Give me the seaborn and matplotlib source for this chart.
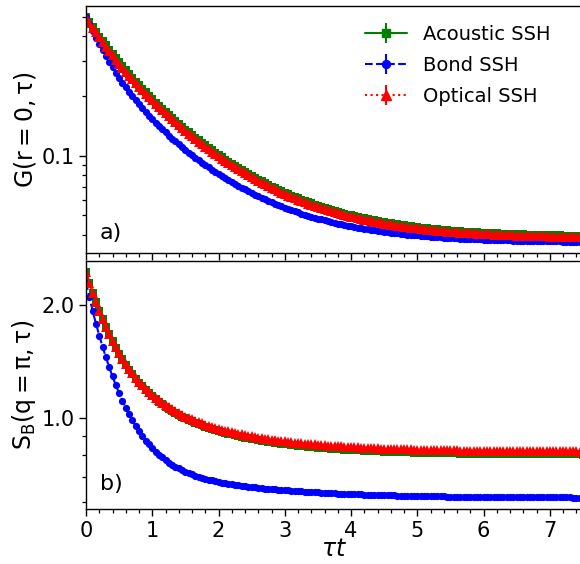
import numpy as np
import pandas as pd
import matplotlib
matplotlib.use("Agg")
import matplotlib.pyplot as plt
from matplotlib import ticker
import seaborn as sns

# ---------------- data ----------------
tau = [0.00, 0.05, 0.10, 0.15, 0.20, 0.25, 0.30, 0.35, 0.40, 0.45,
       0.50, 0.55, 0.60, 0.65, 0.70, 0.75, 0.80, 0.85, 0.90, 0.95,
       1.00, 1.05, 1.10, 1.15, 1.20, 1.25, 1.30, 1.35, 1.40, 1.45,
       1.50, 1.55, 1.60, 1.65, 1.70, 1.75, 1.80, 1.85, 1.90, 1.95,
       2.00, 2.05, 2.10, 2.15, 2.20, 2.25, 2.30, 2.35, 2.40, 2.45,
       2.50, 2.55, 2.60, 2.65, 2.70, 2.75, 2.80, 2.85, 2.90, 2.95,
       3.00, 3.05, 3.10, 3.15, 3.20, 3.25, 3.30, 3.35, 3.40, 3.45,
       3.50, 3.55, 3.60, 3.65, 3.70, 3.75, 3.80, 3.85, 3.90, 3.95,
       4.00, 4.05, 4.10, 4.15, 4.20, 4.25, 4.30, 4.35, 4.40, 4.45,
       4.50, 4.55, 4.60, 4.65, 4.70, 4.75, 4.80, 4.85, 4.90, 4.95,
       5.00, 5.05, 5.10, 5.15, 5.20, 5.25, 5.30, 5.35, 5.40, 5.45,
       5.50, 5.55, 5.60, 5.65, 5.70, 5.75, 5.80, 5.85, 5.90, 5.95,
       6.00, 6.05, 6.10, 6.15, 6.20, 6.25, 6.30, 6.35, 6.40, 6.45,
       6.50, 6.55, 6.60, 6.65, 6.70, 6.75, 6.80, 6.85, 6.90, 6.95,
       7.00, 7.05, 7.10, 7.15, 7.20, 7.25, 7.30, 7.35, 7.40, 7.45, 7.50]

# panel a) G(r=0, tau)
G_acoustic = [0.49950, 0.47112, 0.44520, 0.42134, 0.39934, 0.37900, 0.36017, 0.34306, 0.32619, 0.31053,
              0.29594, 0.28236, 0.26968, 0.25783, 0.24673, 0.23633, 0.22656, 0.21739, 0.20876, 0.20061,
              0.19295, 0.18571, 0.17886, 0.17240, 0.16628, 0.16047, 0.15497, 0.14974, 0.14479, 0.14008,
              0.13559, 0.13134, 0.12728, 0.12341, 0.11974, 0.11623, 0.11289, 0.10968, 0.10664, 0.10373,
              0.10096, 0.09831, 0.09578, 0.09336, 0.09105, 0.08882, 0.08672, 0.08469, 0.08275, 0.08091,
              0.07913, 0.07743, 0.07582, 0.07427, 0.07278, 0.07136, 0.06999, 0.06870, 0.06744, 0.06625,
              0.06510, 0.06400, 0.06295, 0.06194, 0.06097, 0.06002, 0.05914, 0.05830, 0.05749, 0.05672,
              0.05598, 0.05526, 0.05458, 0.05393, 0.05330, 0.05270, 0.05212, 0.05157, 0.05104, 0.05054,
              0.05005, 0.04958, 0.04915, 0.04871, 0.04830, 0.04791, 0.04753, 0.04718, 0.04683, 0.04650,
              0.04618, 0.04588, 0.04558, 0.04531, 0.04504, 0.04478, 0.04454, 0.04430, 0.04407, 0.04386,
              0.04366, 0.04345, 0.04326, 0.04308, 0.04290, 0.04274, 0.04258, 0.04243, 0.04227, 0.04213,
              0.04200, 0.04187, 0.04175, 0.04163, 0.04151, 0.04140, 0.04129, 0.04120, 0.04110, 0.04101,
              0.04091, 0.04083, 0.04075, 0.04067, 0.04060, 0.04053, 0.04046, 0.04039, 0.04033, 0.04027,
              0.04021, 0.04015, 0.04010, 0.04005, 0.04000, 0.03995, 0.03991, 0.03987, 0.03983, 0.03979,
              0.03975, 0.03971, 0.03968, 0.03965, 0.03962, 0.03959, 0.03955, 0.03952, 0.03949, 0.03947, 0.03944]

G_bond = [0.50000, 0.46008, 0.42465, 0.39315, 0.36507, 0.33996, 0.31746, 0.29725, 0.27904, 0.26258,
          0.24767, 0.23413, 0.22178, 0.21051, 0.20018, 0.19068, 0.18194, 0.17387, 0.16640, 0.15946,
          0.15301, 0.14700, 0.14139, 0.13614, 0.13122, 0.12659, 0.12225, 0.11816, 0.11429, 0.11064,
          0.10720, 0.10392, 0.10084, 0.09790, 0.09512, 0.09247, 0.08996, 0.08757, 0.08528, 0.08312,
          0.08105, 0.07909, 0.07721, 0.07543, 0.07372, 0.07209, 0.07053, 0.06905, 0.06764, 0.06627,
          0.06498, 0.06374, 0.06256, 0.06143, 0.06035, 0.05931, 0.05833, 0.05739, 0.05648, 0.05562,
          0.05477, 0.05398, 0.05323, 0.05251, 0.05182, 0.05116, 0.05053, 0.04993, 0.04935, 0.04879,
          0.04827, 0.04776, 0.04727, 0.04681, 0.04637, 0.04594, 0.04554, 0.04515, 0.04477, 0.04442,
          0.04408, 0.04375, 0.04344, 0.04314, 0.04285, 0.04258, 0.04232, 0.04207, 0.04183, 0.04160,
          0.04138, 0.04117, 0.04097, 0.04078, 0.04059, 0.04042, 0.04025, 0.04009, 0.03993, 0.03978,
          0.03964, 0.03951, 0.03938, 0.03925, 0.03914, 0.03902, 0.03891, 0.03881, 0.03871, 0.03862,
          0.03852, 0.03844, 0.03835, 0.03827, 0.03820, 0.03812, 0.03805, 0.03799, 0.03792, 0.03786,
          0.03780, 0.03775, 0.03769, 0.03764, 0.03759, 0.03755, 0.03750, 0.03746, 0.03742, 0.03738,
          0.03734, 0.03730, 0.03727, 0.03724, 0.03720, 0.03717, 0.03714, 0.03712, 0.03709, 0.03707,
          0.03704, 0.03702, 0.03700, 0.03697, 0.03695, 0.03693, 0.03692, 0.03690, 0.03688, 0.03686, 0.03685]

G_optical = [0.49930, 0.47018, 0.44343, 0.41883, 0.39617, 0.37525, 0.35590, 0.33799, 0.32137, 0.30594,
             0.29157, 0.27819, 0.26569, 0.25402, 0.24308, 0.23284, 0.22321, 0.21418, 0.20567, 0.19765,
             0.19010, 0.18297, 0.17622, 0.16985, 0.16382, 0.15810, 0.15268, 0.14753, 0.14265, 0.13801,
             0.13359, 0.12940, 0.12540, 0.12159, 0.11797, 0.11451, 0.11122, 0.10806, 0.10506, 0.10220,
             0.09947, 0.09686, 0.09436, 0.09198, 0.08970, 0.08751, 0.08544, 0.08344, 0.08153, 0.07971,
             0.07796, 0.07629, 0.07470, 0.07317, 0.07170, 0.07031, 0.06896, 0.06768, 0.06644, 0.06527,
             0.06414, 0.06305, 0.06202, 0.06102, 0.06007, 0.05913, 0.05827, 0.05744, 0.05664, 0.05588,
             0.05515, 0.05444, 0.05377, 0.05313, 0.05251, 0.05192, 0.05135, 0.05081, 0.05029, 0.04979,
             0.04931, 0.04885, 0.04842, 0.04799, 0.04759, 0.04720, 0.04683, 0.04648, 0.04614, 0.04581,
             0.04550, 0.04520, 0.04491, 0.04464, 0.04437, 0.04412, 0.04388, 0.04365, 0.04342, 0.04321,
             0.04301, 0.04281, 0.04262, 0.04244, 0.04227, 0.04211, 0.04195, 0.04180, 0.04165, 0.04151,
             0.04138, 0.04125, 0.04113, 0.04101, 0.04090, 0.04079, 0.04068, 0.04059, 0.04049, 0.04040,
             0.04031, 0.04023, 0.04015, 0.04007, 0.04000, 0.03993, 0.03986, 0.03979, 0.03973, 0.03967,
             0.03962, 0.03956, 0.03951, 0.03946, 0.03941, 0.03936, 0.03932, 0.03928, 0.03924, 0.03920,
             0.03916, 0.03912, 0.03909, 0.03906, 0.03903, 0.03900, 0.03897, 0.03894, 0.03891, 0.03889, 0.03886]

# panel b) S_B(q=pi, tau)
S_acoustic = [2.445, 2.294, 2.159, 2.039, 1.931, 1.835, 1.749, 1.672, 1.603, 1.541,
              1.485, 1.434, 1.389, 1.347, 1.310, 1.276, 1.245, 1.217, 1.191, 1.167,
              1.145, 1.125, 1.107, 1.090, 1.074, 1.060, 1.046, 1.033, 1.022, 1.011,
              1.000, 0.991, 0.982, 0.973, 0.965, 0.958, 0.951, 0.944, 0.938, 0.932,
              0.926, 0.921, 0.915, 0.910, 0.906, 0.901, 0.897, 0.893, 0.889, 0.886,
              0.882, 0.879, 0.876, 0.872, 0.870, 0.867, 0.864, 0.861, 0.859, 0.857,
              0.854, 0.852, 0.850, 0.848, 0.846, 0.844, 0.843, 0.841, 0.839, 0.838,
              0.836, 0.835, 0.833, 0.832, 0.831, 0.830, 0.828, 0.827, 0.826, 0.825,
              0.824, 0.823, 0.822, 0.822, 0.821, 0.820, 0.819, 0.818, 0.818, 0.817,
              0.816, 0.816, 0.815, 0.814, 0.814, 0.813, 0.813, 0.812, 0.812, 0.811,
              0.811, 0.810, 0.810, 0.810, 0.809, 0.809, 0.809, 0.808, 0.808, 0.807,
              0.807, 0.807, 0.807, 0.806, 0.806, 0.806, 0.806, 0.805, 0.805, 0.805,
              0.805, 0.805, 0.805, 0.804, 0.804, 0.804, 0.804, 0.804, 0.804, 0.803,
              0.803, 0.803, 0.803, 0.803, 0.803, 0.803, 0.803, 0.802, 0.802, 0.802,
              0.802, 0.802, 0.802, 0.802, 0.802, 0.802, 0.802, 0.802, 0.802, 0.802, 0.801]

S_bond = [2.300, 2.101, 1.932, 1.786, 1.660, 1.550, 1.453, 1.367, 1.292, 1.225,
          1.166, 1.113, 1.066, 1.024, 0.987, 0.953, 0.924, 0.897, 0.873, 0.852,
          0.833, 0.816, 0.801, 0.787, 0.775, 0.763, 0.753, 0.744, 0.736, 0.728,
          0.721, 0.715, 0.709, 0.704, 0.699, 0.695, 0.691, 0.687, 0.684, 0.680,
          0.677, 0.675, 0.672, 0.670, 0.667, 0.665, 0.663, 0.661, 0.659, 0.658,
          0.656, 0.655, 0.653, 0.652, 0.650, 0.649, 0.648, 0.647, 0.646, 0.645,
          0.644, 0.643, 0.642, 0.641, 0.640, 0.639, 0.638, 0.637, 0.637, 0.636,
          0.635, 0.634, 0.634, 0.633, 0.632, 0.632, 0.631, 0.631, 0.630, 0.629,
          0.629, 0.629, 0.628, 0.628, 0.627, 0.627, 0.626, 0.626, 0.626, 0.625,
          0.625, 0.624, 0.624, 0.624, 0.623, 0.623, 0.623, 0.622, 0.622, 0.622,
          0.622, 0.621, 0.621, 0.621, 0.621, 0.620, 0.620, 0.620, 0.620, 0.619,
          0.619, 0.619, 0.619, 0.619, 0.618, 0.618, 0.618, 0.618, 0.618, 0.618,
          0.617, 0.617, 0.617, 0.617, 0.617, 0.617, 0.617, 0.617, 0.617, 0.616,
          0.616, 0.616, 0.616, 0.616, 0.616, 0.616, 0.616, 0.616, 0.616, 0.616,
          0.616, 0.616, 0.616, 0.616, 0.616, 0.616, 0.616, 0.615, 0.615, 0.615, 0.615]

S_optical = [2.445, 2.294, 2.160, 2.040, 1.933, 1.838, 1.753, 1.676, 1.607, 1.546,
             1.490, 1.440, 1.395, 1.354, 1.316, 1.283, 1.252, 1.224, 1.198, 1.175,
             1.154, 1.134, 1.116, 1.099, 1.083, 1.069, 1.056, 1.043, 1.032, 1.021,
             1.011, 1.002, 0.993, 0.984, 0.977, 0.969, 0.962, 0.956, 0.949, 0.943,
             0.938, 0.933, 0.928, 0.923, 0.918, 0.914, 0.910, 0.906, 0.902, 0.899,
             0.895, 0.892, 0.889, 0.886, 0.883, 0.880, 0.877, 0.875, 0.873, 0.870,
             0.868, 0.866, 0.864, 0.862, 0.860, 0.858, 0.857, 0.855, 0.853, 0.852,
             0.850, 0.849, 0.848, 0.846, 0.845, 0.844, 0.843, 0.842, 0.841, 0.840,
             0.839, 0.838, 0.837, 0.836, 0.835, 0.834, 0.834, 0.833, 0.832, 0.831,
             0.831, 0.830, 0.830, 0.829, 0.829, 0.828, 0.827, 0.827, 0.827, 0.826,
             0.826, 0.825, 0.825, 0.824, 0.824, 0.824, 0.823, 0.823, 0.823, 0.822,
             0.822, 0.822, 0.822, 0.821, 0.821, 0.821, 0.821, 0.820, 0.820, 0.820,
             0.820, 0.820, 0.819, 0.819, 0.819, 0.819, 0.819, 0.819, 0.818, 0.818,
             0.818, 0.818, 0.818, 0.818, 0.818, 0.818, 0.818, 0.817, 0.817, 0.817,
             0.817, 0.817, 0.817, 0.817, 0.817, 0.817, 0.817, 0.817, 0.817, 0.816, 0.816]

labels = ["Acoustic SSH", "Bond SSH", "Optical SSH"]
x_ticks = [0, 1, 2, 3, 4, 5, 6, 7]
b_ticks = [1.0, 2.0]
b_tick_labels = ["1.0", "2.0"]

# ---------------- style ----------------
sns.set_theme(style="ticks", rc={
    "axes.edgecolor": "black", "axes.labelcolor": "black", "text.color": "black",
    "xtick.color": "black", "ytick.color": "black", "axes.linewidth": 1.0,
    "xtick.major.size": 5, "ytick.major.size": 5,
    "xtick.minor.size": 3, "ytick.minor.size": 3,
    "xtick.major.width": 1.0, "ytick.major.width": 1.0,
    "xtick.minor.width": 0.9, "ytick.minor.width": 0.9,
})
plt.rcParams["font.family"] = ["DejaVu Sans"]
plt.rcParams["mathtext.fontset"] = "dejavusans"

styles = [
    dict(color="green", linestyle="-", marker="s", markersize=5.3),
    dict(color="blue", linestyle="--", marker="o", markersize=5.2),
    dict(color="red", linestyle=":", marker="^", markersize=6.6),
]

W, H = 580, 564
fig = plt.figure(figsize=(W / 100, H / 100), dpi=100)
ax1 = fig.add_axes([86 / W, 1 - 253 / H, 497 / W, 247 / H])
ax2 = fig.add_axes([86 / W, 1 - 509 / H, 497 / W, 248 / H])

top_df = pd.DataFrame({"tau": tau, labels[0]: G_acoustic, labels[1]: G_bond, labels[2]: G_optical})
bot_df = pd.DataFrame({"tau": tau, labels[0]: S_acoustic, labels[1]: S_bond, labels[2]: S_optical})

for ax, df in [(ax1, top_df), (ax2, bot_df)]:
    ax.set_yscale("log")
    for lab, st in zip(labels, styles):
        sns.lineplot(data=df, x="tau", y=lab, ax=ax, color=st["color"], linestyle=st["linestyle"],
                     marker=st["marker"], markersize=st["markersize"], markeredgewidth=0,
                     linewidth=1.5, legend=False, errorbar=None)
    ax.set_xlim(0, 7.5)
    ax.xaxis.set_major_locator(ticker.FixedLocator(x_ticks))
    ax.xaxis.set_minor_locator(ticker.MultipleLocator(0.2))
    ax.tick_params(axis="both", which="major", labelsize=15)
    ax.tick_params(axis="y", which="major", pad=3)
    ax.set_xlabel("")

# top panel
ax1.tick_params(axis="x", labelbottom=False)
ax1.yaxis.set_major_locator(ticker.LogLocator(base=10))
ax1.yaxis.set_major_formatter(ticker.FuncFormatter(lambda v, p: f"{v:g}"))
ax1.yaxis.set_minor_locator(ticker.LogLocator(base=10, subs=np.arange(2, 10)))
ax1.yaxis.set_minor_formatter(ticker.NullFormatter())
ax1.set_ylabel(r"$\mathregular{G(r=0, \tau)}$", fontsize=17, labelpad=3)

# bottom panel
ax2.yaxis.set_major_locator(ticker.FixedLocator(b_ticks))
ax2.yaxis.set_major_formatter(ticker.FixedFormatter(b_tick_labels))
ax2.yaxis.set_minor_locator(ticker.LogLocator(base=10, subs=np.arange(2, 10)))
ax2.yaxis.set_minor_formatter(ticker.NullFormatter())
ax2.set_ylabel(r"$\mathregular{S_B(q=\pi, \tau)}$", fontsize=17, labelpad=3)
ax2.set_xlabel(r"$\tau t$", fontsize=17, labelpad=-3)

# legend with errorbar-style handles
handles = []
for st in styles:
    h = ax1.errorbar([], [], yerr=[], color=st["color"], linestyle=st["linestyle"],
                     marker=st["marker"], markersize=st["markersize"] + 0.5, linewidth=1.5,
                     elinewidth=1.5)
    handles.append(h)
ax1.legend(handles, labels, loc="upper left", bbox_to_anchor=(0.545, 0.955),
           frameon=False, fontsize=14, borderaxespad=0, handlelength=2.2,
           labelspacing=0.62)

ax1.text(0.028, 0.058, "a)", transform=ax1.transAxes, fontsize=16, va="baseline")
ax2.text(0.028, 0.075, "b)", transform=ax2.transAxes, fontsize=16, va="baseline")

fig.savefig("out.png", dpi=100)
